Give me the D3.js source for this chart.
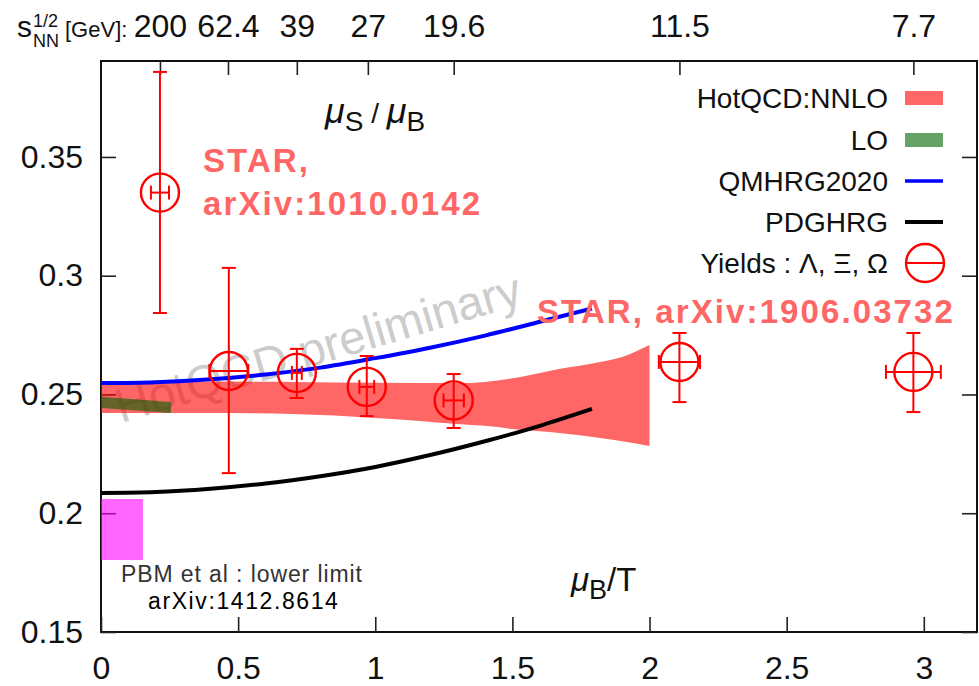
<!DOCTYPE html>
<html>
<head>
<meta charset="utf-8">
<script src="https://cdn.jsdelivr.net/npm/d3@7"></script>
<style>
  body { margin: 0; background: #fff; }
  svg { display: block; font-family: "Liberation Sans", Arial, Helvetica, sans-serif; }
</style>
</head>
<body>
<svg id="chart" width="979" height="686"></svg>
<script>
// ---- data -------------------------------------------------------------
// bottom axis ticks (mu_B/T) and left axis ticks (mu_S/mu_B)
const xTicks = [0, 0.5, 1, 1.5, 2, 2.5, 3];
const yTicks = [0.15, 0.2, 0.25, 0.3, 0.35];

// collision energies shown on the top axis, placed at their mu_B/T
const sNNLabels = ["200", "62.4", "39", "27", "19.6", "11.5", "7.7"];
const sNNPos    = [0.215, 0.463, 0.714, 0.973, 1.286, 2.109, 2.962];

// HotQCD NNLO band
const nnloX  = [0, 0.35, 0.7, 1.0, 1.3, 1.4, 1.53, 1.67, 1.82, 1.9, 2.0];
const nnloHi = [0.2557, 0.2555, 0.2553, 0.2549, 0.2548, 0.2553, 0.2574, 0.2607, 0.2637, 0.2658, 0.2708];
const nnloLo = [0.2422, 0.2422, 0.2418, 0.2401, 0.2376, 0.2368, 0.2351, 0.2338, 0.2317, 0.2303, 0.2283];

// LO band
const loX  = [0, 0.255];
const loHi = [0.2490, 0.2468];
const loLo = [0.2443, 0.2422];

// hadron resonance gas curves
const hrgX    = [0, 0.2, 0.4, 0.6, 0.8, 1.0, 1.2, 1.4, 1.6, 1.79];
const qmhrgY  = [0.2548, 0.2552, 0.2564, 0.2584, 0.2613, 0.2653, 0.2697, 0.2748, 0.2806, 0.2862];
const pdghrgY = [0.2085, 0.2089, 0.2103, 0.2125, 0.2156, 0.2195, 0.2245, 0.2303, 0.2368, 0.2439];

// PBM et al lower limit box
const pbmX = [0, 0.153];
const pbmY = [0.1803, 0.206];

// STAR yields: Lambda, Xi, Omega
const yieldX    = [0.215, 0.466, 0.714, 0.969, 1.286, 2.109, 2.962];
const yieldY    = [0.335, 0.2599, 0.2591, 0.2532, 0.2475, 0.2637, 0.2595];
const yieldLo   = [0.2843, 0.2169, 0.2485, 0.2409, 0.2359, 0.2468, 0.2426];
const yieldHi   = [0.3858, 0.3033, 0.2692, 0.2662, 0.2586, 0.2759, 0.2759];
const yieldXerr = [0.033, 0.071, 0.018, 0.027, 0.037, 0.075, 0.1];

const legendNames = ["HotQCD:NNLO", "LO", "QMHRG2020", "PDGHRG", "Yields : \u039B, \u039E, \u03A9"];

// ---- drawing ----------------------------------------------------------
const svg = d3.select("#chart");
const L = 101, R = 977, T = 61, B = 632;
const x = d3.scaleLinear().domain([0, 3.194]).range([L, R]);
const y = d3.scaleLinear().domain([0.15, 0.3904]).range([B, T]);

const RED_BAND = "rgba(255,0,0,0.6)";
const GREEN_BAND = "rgba(0,100,0,0.6)";
const MAGENTA = "rgba(255,0,255,0.6)";
const PT = "#ff0000";

// watermark
svg.append("text")
  .attr("transform", "translate(121,423) rotate(-16.5)")
  .attr("font-size", 47)
  .attr("fill", "#cccccc")
  .text("HotQCD preliminary");

// frame
svg.append("rect")
  .attr("x", L).attr("y", T).attr("width", R - L).attr("height", B - T)
  .attr("fill", "none").attr("stroke", "#111").attr("stroke-width", 2);

function styleAxis(g) {
  g.select(".domain").remove();
  g.selectAll(".tick line").attr("stroke", "#222").attr("stroke-width", 1.6);
  g.selectAll(".tick text").attr("fill", "#111").attr("font-family", null);
}

// bottom axis
svg.append("g").attr("transform", `translate(0,${B})`)
  .call(d3.axisBottom(x).tickValues(xTicks).tickSize(-15).tickPadding(24)
        .tickFormat(d3.format("~g")))
  .call(styleAxis)
  .call(g => g.selectAll(".tick text").attr("font-size", 32));

// left axis
svg.append("g").attr("transform", `translate(${L},0)`)
  .call(d3.axisLeft(y).tickValues(yTicks).tickSize(-15).tickPadding(18)
        .tickFormat(d3.format("~g")))
  .call(styleAxis)
  .call(g => g.selectAll(".tick text").attr("font-size", 32));

// right axis (ticks only)
svg.append("g").attr("transform", `translate(${R},0)`)
  .call(d3.axisRight(y).tickValues(yTicks).tickSize(-15).tickFormat(""))
  .call(styleAxis);

// top axis: collision energies
svg.append("g").attr("transform", `translate(0,${T})`)
  .call(d3.axisTop(x).tickValues(sNNPos).tickSize(-14).tickPadding(24)
        .tickFormat((d, i) => sNNLabels[i]))
  .call(styleAxis)
  .call(g => g.selectAll(".tick text").attr("font-size", 32).attr("dy", 0));

// top axis title: s_NN^{1/2} [GeV]:
const sT = svg.append("g").attr("fill", "#111");
sT.append("text").attr("x", 17).attr("y", 37).attr("font-size", 30).text("s");
sT.append("text").attr("x", 33).attr("y", 27).attr("font-size", 18).text("1/2");
sT.append("text").attr("x", 33).attr("y", 47).attr("font-size", 18).text("NN");
sT.append("text").attr("x", 65).attr("y", 37).attr("font-size", 22).text("[GeV]:");

// HotQCD NNLO band
const nnloData = nnloX.map((v, i) => ({ x: v, lo: nnloLo[i], hi: nnloHi[i] }));
svg.append("path").datum(nnloData)
  .attr("fill", RED_BAND)
  .attr("d", d3.area().x(d => x(d.x)).y0(d => y(d.lo)).y1(d => y(d.hi)).curve(d3.curveMonotoneX));

// LO band
const loData = loX.map((v, i) => ({ x: v, lo: loLo[i], hi: loHi[i] }));
svg.append("path").datum(loData)
  .attr("fill", GREEN_BAND)
  .attr("d", d3.area().x(d => x(d.x)).y0(d => y(d.lo)).y1(d => y(d.hi)));

// PBM lower limit box
svg.append("rect")
  .attr("x", x(pbmX[0])).attr("y", y(pbmY[1]))
  .attr("width", x(pbmX[1]) - x(pbmX[0])).attr("height", y(pbmY[0]) - y(pbmY[1]))
  .attr("fill", MAGENTA);

// HRG curves
const line = d3.line().x(d => x(d[0])).y(d => y(d[1])).curve(d3.curveMonotoneX);
svg.append("path").datum(hrgX.map((v, i) => [v, qmhrgY[i]]))
  .attr("fill", "none").attr("stroke", "#0000ff").attr("stroke-width", 4).attr("d", line);
svg.append("path").datum(hrgX.map((v, i) => [v, pdghrgY[i]]))
  .attr("fill", "none").attr("stroke", "#000").attr("stroke-width", 4).attr("d", line);

// STAR yields with error bars
const pts = svg.append("g").attr("stroke", PT).attr("stroke-width", 2).attr("fill", "none");
const cap = 7;
yieldX.forEach((xv, i) => {
  const cx = x(xv), cy = y(yieldY[i]);
  const g = pts.append("g");
  // vertical
  g.append("line").attr("x1", cx).attr("x2", cx).attr("y1", y(yieldLo[i])).attr("y2", y(yieldHi[i]));
  g.append("line").attr("x1", cx - cap).attr("x2", cx + cap).attr("y1", y(yieldLo[i])).attr("y2", y(yieldLo[i]));
  g.append("line").attr("x1", cx - cap).attr("x2", cx + cap).attr("y1", y(yieldHi[i])).attr("y2", y(yieldHi[i]));
  // horizontal
  const xl = x(xv - yieldXerr[i]), xr = x(xv + yieldXerr[i]);
  g.append("line").attr("x1", xl).attr("x2", xr).attr("y1", cy).attr("y2", cy);
  g.append("line").attr("x1", xl).attr("x2", xl).attr("y1", cy - cap).attr("y2", cy + cap);
  g.append("line").attr("x1", xr).attr("x2", xr).attr("y1", cy - cap).attr("y2", cy + cap);
  g.append("circle").attr("cx", cx).attr("cy", cy).attr("r", 19).attr("stroke-width", 2.4);
});

// annotations
const starStyle = t => t.attr("fill", "#ff6666").attr("font-weight", "bold")
  .attr("font-size", 33).attr("letter-spacing", 2.1);
svg.append("text").attr("x", 203).attr("y", 172).call(starStyle).text("STAR,");
svg.append("text").attr("x", 203).attr("y", 215).call(starStyle).text("arXiv:1010.0142");
svg.append("text").attr("x", 537).attr("y", 323).call(starStyle).text("STAR, arXiv:1906.03732");

svg.append("text").attr("x", 121).attr("y", 582).attr("font-size", 23).attr("fill", "#333")
  .attr("letter-spacing", 0.9).text("PBM et al : lower limit");
svg.append("text").attr("x", 148).attr("y", 609).attr("font-size", 23).attr("fill", "#000")
  .attr("letter-spacing", 1.6).text("arXiv:1412.8614");

// axis labels inside the frame
const yl = svg.append("text").attr("x", 325).attr("y", 123).attr("fill", "#111").attr("font-size", 36);
yl.append("tspan").attr("font-style", "italic").text("\u03BC");
yl.append("tspan").attr("font-size", 28).attr("dy", 8).text("S");
yl.append("tspan").attr("font-size", 28).attr("dy", -8).text(" / ");
yl.append("tspan").attr("font-style", "italic").text("\u03BC");
yl.append("tspan").attr("font-size", 28).attr("dy", 8).text("B");

const xl = svg.append("text").attr("x", 571).attr("y", 591).attr("fill", "#111").attr("font-size", 33);
xl.append("tspan").attr("font-style", "italic").text("\u03BC");
xl.append("tspan").attr("font-size", 27).attr("dy", 8).text("B");
xl.append("tspan").attr("dy", -8).text("/T");

// legend
const legX = 888, sx0 = 905, sx1 = 943;
const rowY = [98, 140, 181, 222, 263];
const leg = svg.append("g");
legendNames.forEach((name, i) => {
  leg.append("text").attr("x", legX).attr("y", rowY[i] + 10).attr("text-anchor", "end")
    .attr("font-size", 28).attr("fill", "#111").text(name);
});
leg.append("rect").attr("x", sx0).attr("y", rowY[0] - 7).attr("width", sx1 - sx0).attr("height", 14).attr("fill", RED_BAND);
leg.append("rect").attr("x", sx0).attr("y", rowY[1] - 7).attr("width", sx1 - sx0).attr("height", 14).attr("fill", GREEN_BAND);
leg.append("line").attr("x1", sx0).attr("x2", sx1).attr("y1", rowY[2]).attr("y2", rowY[2])
  .attr("stroke", "#0000ff").attr("stroke-width", 3.5);
leg.append("line").attr("x1", sx0).attr("x2", sx1).attr("y1", rowY[3]).attr("y2", rowY[3])
  .attr("stroke", "#000").attr("stroke-width", 4);
leg.append("circle").attr("cx", 925).attr("cy", rowY[4]).attr("r", 19)
  .attr("fill", "none").attr("stroke", PT).attr("stroke-width", 2.4);
leg.append("line").attr("x1", 906).attr("x2", 944).attr("y1", rowY[4]).attr("y2", rowY[4])
  .attr("stroke", PT).attr("stroke-width", 2);
</script>
</body>
</html>
